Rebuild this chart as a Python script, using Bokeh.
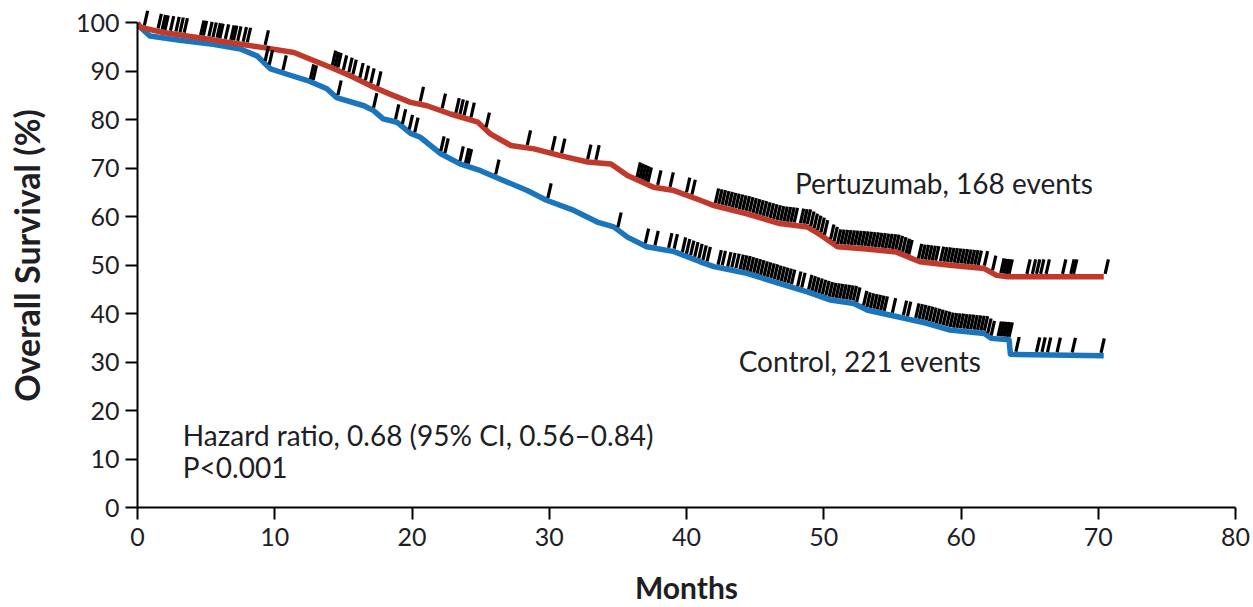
import numpy as np
from bokeh.plotting import figure
from bokeh.models import Range1d, Label, ColumnDataSource
from bokeh.embed import file_html
from bokeh.resources import INLINE

# ---- data ----
pertuzumab_t = [0, 0.2, 1.9, 4.35, 6.8, 9.2, 11.4, 12.6, 14.1, 15.5, 17.0, 18.4, 19.9, 21.1, 22.8,
                24.8, 25.7, 27.2, 28.9, 30.8, 32.8, 34.5, 35.7, 37.6, 39.1, 41.0, 42.0, 44.4, 46.8,
                48.8, 49.8, 51.0, 52.9, 55.3, 57.0, 59.2, 61.7, 62.6, 63.4, 70.4]
pertuzumab_s = [100, 99.1, 98.0, 97.0, 95.9, 94.9, 93.9, 92.5, 90.8, 89.1, 87.0, 85.3, 83.6, 82.9, 81.2,
                79.5, 77.1, 74.7, 74.0, 72.6, 71.3, 70.9, 68.5, 66.1, 65.4, 63.4, 62.3, 60.6, 58.6,
                57.9, 56.2, 53.8, 53.4, 52.7, 50.7, 50.0, 49.3, 47.9, 47.6, 47.6]

control_t = [0, 0.2, 0.9, 3.1, 5.5, 7.5, 8.7, 9.7, 10.9, 12.4, 13.8, 14.5, 16.5, 17.2, 17.9, 18.9,
             19.9, 20.6, 22.1, 23.5, 25.0, 26.4, 28.4, 29.8, 31.8, 33.5, 34.7, 35.7, 37.1, 39.1,
             41.0, 42.0, 44.4, 46.8, 48.8, 50.5, 52.2, 53.2, 55.3, 57.5, 59.2, 61.7, 62.2, 63.5,
             63.6, 70.4]
control_s = [100, 99.1, 97.3, 96.4, 95.6, 94.6, 93.2, 90.5, 89.4, 88.1, 86.4, 84.6, 82.9, 81.9, 80.2, 79.5,
             77.2, 76.4, 73.0, 70.9, 69.5, 67.8, 65.4, 63.4, 61.3, 58.9, 57.9, 55.8, 53.8, 52.8,
             50.7, 49.7, 48.3, 46.2, 44.5, 42.8, 42.1, 40.7, 39.4, 38.0, 36.6, 35.9, 34.9, 34.6,
             31.6, 31.3]

pertuzumab_censored = [
    0.5, 1.5, 1.8, 2.0, 2.4, 2.8, 3.1, 3.4, 4.6, 4.8, 5.2, 5.5, 5.8, 6.0, 6.4, 6.8, 7.0, 7.3, 7.7, 8.0, 9.3,
    14.2, 14.4, 14.6, 15.0, 15.4, 15.7, 16.2, 16.6, 17.0, 17.5,
    20.6, 22.2, 23.2, 23.5, 23.8, 24.3, 25.4, 28.4, 30.2, 30.9, 32.8, 33.4,
    36.4, 36.6, 36.8, 37.0, 37.2, 37.9, 38.8, 40.0, 40.4,
    42.1, 42.35, 42.6, 42.85, 43.1, 43.35, 43.6, 43.85, 44.1, 44.35, 44.6, 44.85, 45.1, 45.35, 45.6,
    45.85, 46.1, 46.35, 46.6, 46.85, 47.1, 47.35, 47.6, 47.85,
    48.3, 48.55, 48.8, 49.05, 49.3, 49.55, 49.8, 50.05,
    50.5, 50.75, 51.0, 51.25, 51.5, 51.75, 52.0, 52.25, 52.5, 52.75, 53.0, 53.25, 53.5, 53.75, 54.0,
    54.25, 54.5, 54.75, 55.0, 55.25, 55.5, 55.75, 56.0, 56.2,
    56.9, 57.15, 57.4, 57.65, 57.9, 58.15, 58.5, 58.75, 59.0, 59.25, 59.5, 59.75, 60.0, 60.25, 60.5,
    60.75, 61.0, 61.25,
    61.7, 62.3, 62.9, 63.1, 63.3, 63.5,
    64.8, 65.2, 65.5, 65.8, 66.2, 67.4, 68.0, 68.2, 70.5]

control_censored = [
    9.3, 9.6, 10.6, 12.6, 12.8, 14.6, 17.2, 18.8, 19.3, 19.8, 20.2, 22.1, 22.4, 23.5, 23.9, 24.1,
    26.1, 29.9, 35.0, 37.0, 37.7, 38.7, 39.1,
    39.7, 40.0, 40.3, 40.6, 40.9, 41.2, 41.5,
    42.3, 42.6, 43.0, 43.3, 43.6,
    43.9, 44.15, 44.4, 44.65, 44.9, 45.15, 45.4, 45.65, 45.9, 46.15, 46.4, 46.65, 46.9, 47.15, 47.4, 47.65,
    48.1, 48.4,
    48.9, 49.15, 49.4, 49.65, 49.9, 50.15, 50.4, 50.65, 50.9, 51.15, 51.4, 51.65, 51.9, 52.15, 52.4,
    52.9, 53.15, 53.4, 53.65, 53.9, 54.15, 54.4, 55.0, 55.8, 56.1,
    56.7, 56.95, 57.2, 57.45, 57.7, 57.95, 58.2, 58.45, 58.7, 58.95, 59.2, 59.45, 59.7, 59.95, 60.2,
    60.45, 60.7, 60.95, 61.2, 61.45, 61.7, 61.95, 62.2,
    62.7, 62.9, 63.1, 63.3, 63.5,
    64.0, 65.5, 65.9, 66.3, 67.0, 68.1, 70.2]

x_ticks = [0, 10, 20, 30, 40, 50, 60, 70, 80]
y_ticks = [0, 10, 20, 30, 40, 50, 60, 70, 80, 90, 100]

RED = "#C1392B"
BLUE = "#1A75BC"
TXT = "#1e1e24"
FONT = "Lato"

p = figure(width=1253, height=607, output_backend="svg", toolbar_location=None,
           x_range=Range1d(0, 80), y_range=Range1d(0, 104),
           min_border_left=137, min_border_right=18, min_border_top=3, min_border_bottom=99)
p.outline_line_color = None
p.grid.visible = False
p.background_fill_color = "white"

p.line(control_t, control_s, line_color=BLUE, line_width=5.5, line_join="round")
p.line(pertuzumab_t, pertuzumab_s, line_color=RED, line_width=5.5, line_join="round")

def censor_source(times, ct, cs):
    t = np.array(times, dtype=float)
    s = np.interp(t, ct, cs)
    return ColumnDataSource(dict(x0=t, y0=s + 0.6, x1=t + 0.24, y1=s + 3.6))

for times, ct, cs in [(control_censored, control_t, control_s),
                      (pertuzumab_censored, pertuzumab_t, pertuzumab_s)]:
    p.segment(x0="x0", y0="y0", x1="x1", y1="y1", source=censor_source(times, ct, cs),
              line_color="black", line_width=3.2)

# axes
for ax in (p.xaxis, p.yaxis):
    ax.axis_line_color = "black"
    ax.axis_line_width = 2
    ax.major_tick_line_color = "black"
    ax.major_tick_line_width = 2
    ax.major_tick_out = 12
    ax.major_tick_in = 0
    ax.minor_tick_line_color = None
    ax.major_label_text_font = FONT
    ax.major_label_text_font_size = "25px"
    ax.major_label_text_color = TXT
    ax.axis_label_text_font = FONT
    ax.axis_label_text_font_style = "bold"
    ax.axis_label_text_color = TXT

p.xaxis.axis_label_text_font_size = "30px"
p.yaxis.axis_label_text_font_size = "34px"
p.xaxis.ticker = x_ticks
p.yaxis.ticker = y_ticks
p.yaxis.bounds = (0, 100)
p.xaxis.bounds = (0, 80)
p.xaxis.axis_label = "Months"
p.yaxis.axis_label = "Overall Survival (%)"
p.xaxis.major_label_standoff = 8
p.yaxis.major_label_standoff = 6
p.xaxis.axis_label_standoff = 20
p.yaxis.axis_label_standoff = 26

def add_label(x, y, text):
    p.add_layout(Label(x=x, y=y, text=text, text_font=FONT, text_font_size="28px",
                       text_color=TXT, text_baseline="middle", text_align="left"))

add_label(47.9, 66.9, "Pertuzumab, 168 events")
add_label(43.8, 30.2, "Control, 221 events")
add_label(3.3, 15.0, "Hazard ratio, 0.68 (95% CI, 0.56\u20130.84)")
add_label(3.3, 8.4, "P<0.001")

open("out.html", "w").write(file_html(p, INLINE))
